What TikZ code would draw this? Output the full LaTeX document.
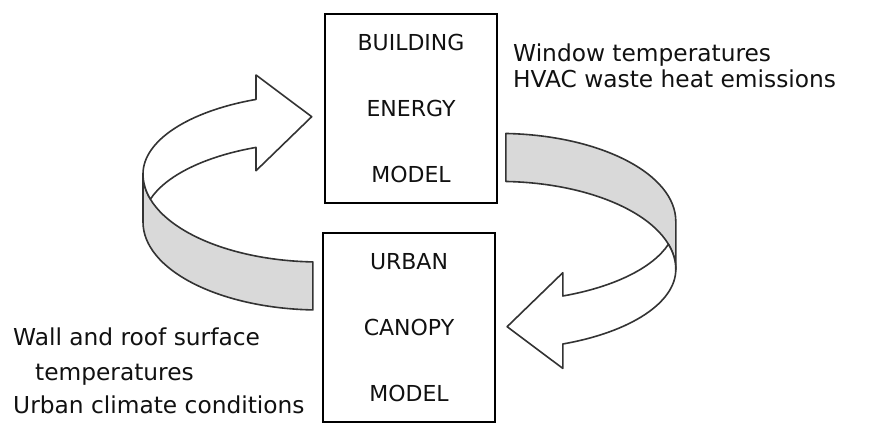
\documentclass[tikz,border=0pt]{standalone}
\usepackage{fontspec}
\setmainfont{DejaVu Sans}
\usepackage{tikz}
\usetikzlibrary{positioning}
\definecolor{bandgrey}{HTML}{D9D9D9}
\definecolor{edgegrey}{HTML}{333333}
\definecolor{inkgrey}{HTML}{111111}

\begin{document}
\begin{tikzpicture}[x=1pt,y=1pt]
% Define styles
\tikzstyle{modelbox} = [draw, line width=1.3pt, minimum width=172pt, minimum height=189pt, align=center, text=inkgrey, font=\fontsize{22}{66}\selectfont]
\tikzstyle{infotext} = [anchor=base west, inner sep=0pt, text=inkgrey, font=\fontsize{23.3}{28}\selectfont]
\tikzstyle{ribbon} = [draw=edgegrey, line width=1.6pt, line join=round]
\useasboundingbox (0,0) rectangle (869,424);
% Define nodes
\node[modelbox] (bem) at (411,315.5) {BUILDING\\ENERGY\\MODEL};
\node[modelbox] (ucm) at (409,96.5) {URBAN\\CANOPY\\MODEL};
\node[infotext] (win) at (513,362) {Window temperatures};
\node[infotext] (hvac) at (513,337) {HVAC waste heat emissions};
\node[infotext] (wall) at (13,79) {Wall and roof surface};
\node[infotext] (temp) at (35,44) {temperatures};
\node[infotext] (clim) at (13,11) {Urban climate conditions};
% Draw the ribbon arrows
\foreach \turn in {0,180}{
\begin{scope}[rotate around={\turn:(409.4,202.3)}]
\draw[ribbon, fill=bandgrey] (143,250)
  arc[start angle=180, end angle=267.7, x radius=177, y radius=88]
  -- ++(0,-48)
  arc[start angle=267.7, end angle=180, x radius=177, y radius=88]
  -- cycle;
\draw[ribbon, fill=white] ({320+177*cos(111.2)},{250+80*sin(111.2)})
  arc[start angle=111.2, end angle=180, x radius=177, y radius=80]
  arc[start angle=180, end angle=196.6, x radius=177, y radius=88]
  arc[start angle=163.4, end angle=111.2, x radius=177, y radius=80]
  -- ++(0,-23.3) -- (311.7,307.3) -- (256,349) -- cycle;
\end{scope}
}
\end{tikzpicture}
\end{document}
